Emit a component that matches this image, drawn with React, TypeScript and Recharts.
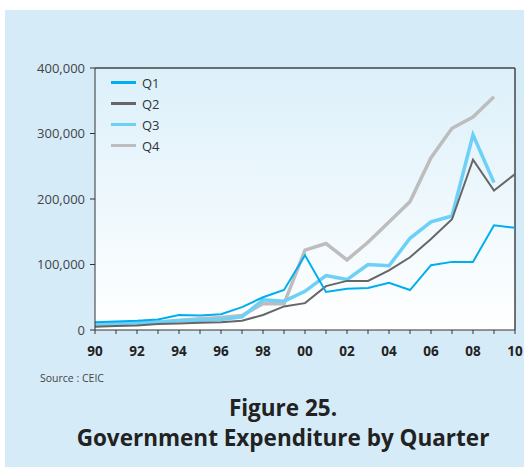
import { LineChart, Line, XAxis, YAxis, CartesianGrid, ReferenceLine, Legend } from 'recharts'

// values, in thousands of the local currency
const years = [
  1990, 1991, 1992, 1993, 1994, 1995, 1996, 1997, 1998, 1999, 2000,
  2001, 2002, 2003, 2004, 2005, 2006, 2007, 2008, 2009, 2010,
]
const q1 = [12, 13, 14, 16, 23, 22, 24, 35, 50, 61, 114, 58, 63, 64, 72, 61, 99, 104, 104, 160, 156]
const q2 = [5, 6, 7, 9, 10, 11, 12, 14, 23, 36, 41, 67, 75, 75, 91, 111, 139, 169, 260, 213, 238]
const q3 = [9, 10, 11, 12, 14, 15, 16, 20, 46, 44, 59, 83, 77, 100, 98, 140, 165, 174, 298, 225, null]
const q4 = [7, 8, 10, 12, 15, 17, 19, 22, 40, 40, 122, 132, 107, 134, 165, 196, 263, 308, 325, 356, null]
const yTicks = [0, 100000, 200000, 300000, 400000]

const seriesMeta = [
  { key: 'q1', name: 'Q1', color: '#00aeef', width: 2 },
  { key: 'q2', name: 'Q2', color: '#666666', width: 2 },
  { key: 'q3', name: 'Q3', color: '#6dd0f6', width: 3.5 },
  { key: 'q4', name: 'Q4', color: '#bdbdbd', width: 3.5 },
]

const k = (v: number | null) => (v === null ? null : v * 1000)

const data = years.map((year, i) => ({
  year,
  q1: k(q1[i]),
  q2: k(q2[i]),
  q3: k(q3[i]),
  q4: k(q4[i]),
}))

const font = '"Open Sans", "Noto Sans", sans-serif'

function QuarterLegend() {
  return (
    <div style={{ fontFamily: font, fontSize: 13, color: '#333' }}>
      {seriesMeta.map((s) => (
        <div key={s.key} style={{ display: 'flex', alignItems: 'center', height: 21 }}>
          <span style={{ display: 'inline-block', width: 25, height: 3, background: s.color, marginRight: 6 }} />
          {s.name}
        </div>
      ))}
    </div>
  )
}

export default function App() {
  return (
    <div style={{ position: 'absolute', left: 0, top: 0, width: 524, height: 467, background: '#fff', overflow: 'hidden' }}>
      <div style={{ position: 'absolute', left: 5, top: 10, width: 530, height: 470, background: '#d5ebf8' }} />
      <div style={{ position: 'absolute', left: 0, top: 0 }}>
        <LineChart width={524} height={362} data={data} margin={{ top: 68, right: 9, bottom: 10, left: 0 }}>
          <defs>
            <linearGradient id="plotBg" x1="0" y1="0" x2="0" y2="1">
              <stop offset="0%" stopColor="#dcf0fa" />
              <stop offset="100%" stopColor="#ffffff" />
            </linearGradient>
          </defs>
          <CartesianGrid horizontal={false} vertical={false} fill="url(#plotBg)" fillOpacity={1} />
          <XAxis
            dataKey="year"
            type="number"
            domain={[1990, 2010]}
            ticks={years}
            interval={0}
            tickFormatter={(y: number) => (y % 2 === 0 ? String(y % 100).padStart(2, '0') : '')}
            tick={{ fontSize: 13.5, fontWeight: 700, fill: '#222', fontFamily: font }}
            stroke="#333"
            tickSize={4}
            tickMargin={12}
            height={22}
          />
          <YAxis
            domain={[0, 400000]}
            ticks={yTicks}
            tickFormatter={(v: number) => v.toLocaleString('en-US')}
            tick={{ fontSize: 13, fill: '#444', fontFamily: font }}
            stroke="#333"
            tickSize={5}
            tickMargin={5}
            width={95}
          />
          <ReferenceLine y={400000} stroke="#444" strokeWidth={1.5} />
          <ReferenceLine x={2010} stroke="#444" strokeWidth={1.5} />
          {/* vertical + center + middle keeps the legend from eating plot space */}
          <Legend
            content={<QuarterLegend />}
            layout="vertical"
            verticalAlign="middle"
            align="center"
            wrapperStyle={{ position: 'absolute', left: 111, top: 72, width: 80 }}
          />
          {[...seriesMeta].reverse().map((s) => (
            <Line
              key={s.key}
              type="linear"
              dataKey={s.key}
              name={s.name}
              stroke={s.color}
              strokeWidth={s.width}
              dot={false}
              activeDot={false}
              connectNulls={false}
              isAnimationActive={false}
            />
          ))}
        </LineChart>
      </div>
      <div style={{ position: 'absolute', left: 40, top: 371, fontFamily: font, fontSize: 10.5, color: '#444' }}>
        Source : CEIC
      </div>
      <div
        style={{
          position: 'absolute',
          left: 0,
          width: 566,
          top: 393,
          textAlign: 'center',
          fontFamily: font,
          fontWeight: 700,
          fontSize: 22.5,
          lineHeight: '30px',
          color: '#222',
        }}
      >
        Figure 25.
        <br />
        Government Expenditure by Quarter
      </div>
    </div>
  )
}
